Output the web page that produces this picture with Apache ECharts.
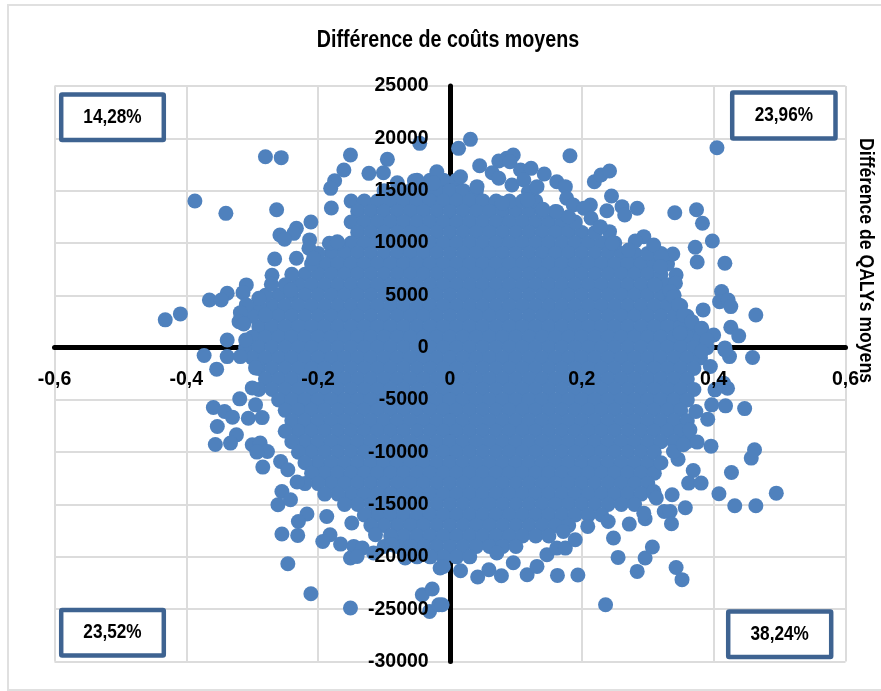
<!DOCTYPE html>
<html><head><meta charset="utf-8">
<style>html,body{margin:0;padding:0;background:#fff}#c{width:881px;height:691px}</style>
<script src="https://cdn.jsdelivr.net/npm/echarts@6/dist/echarts.min.js"></script>
</head><body><div id="c"></div>
<script>
const costTitle = 'Différence de coûts moyens';
const qalyTitle = 'Différence de QALYs moyens';
const quadrantShares = ['14,28%', '23,96%', '23,52%', '38,24%'];

// Outlying simulations: [QALY difference, cost difference]
const upperLeft = [[-.280,18240],[-.256,18150],[-.151,18400],[-.095,17990],[-.161,16970],[-.175,15950],[-.181,15220],[-.123,16650],[-.101,16710],[-.080,15760],[-.054,15950],[-.046,19520],[-.020,16810],[-.025,15730],[-.387,14010],[-.340,12830],[-.263,13180],[-.180,13340],[-.211,12000],[-.233,11400],[-.237,10920],[-.258,10760],[-.251,10350],[-.213,10290],[-.214,9490],[-.183,9970],[-.171,10120],[-.266,8470],[-.233,8540],[-.207,8540],[-.270,6910],[-.271,6050],[-.309,5990],[-.338,5190],[-.314,5250],[-.290,4720],[-.365,4550],[-.347,4550],[-.309,4080],[-.318,3340],[-.409,3220],[-.432,2650],[-.320,2480],[-.313,2260],[-.280,3120],[-.338,730],[-.310,730],[-.242,5510]];
const lowerLeft = [[-.373,-760],[-.338,-860],[-.354,-2060],[-.318,-860],[-.295,-1940],[-.300,-3850],[-.319,-4900],[-.295,-5470],[-.359,-5730],[-.342,-6110],[-.330,-6650],[-.306,-6750],[-.285,-6690],[-.353,-7540],[-.324,-8340],[-.333,-9130],[-.356,-9260],[-.300,-9290],[-.288,-9130],[-.277,-9930],[-.293,-9990],[-.284,-11420],[-.257,-10890],[-.246,-11680],[-.232,-12850],[-.255,-13750],[-.261,-15020],[-.242,-14540],[-.217,-15910],[-.230,-16620],[-.187,-16140],[-.255,-17820],[-.231,-17950],[-.182,-17890],[-.193,-18530],[-.166,-18780],[-.149,-16770],[-.146,-19000],[-.133,-19160],[-.151,-20110],[-.141,-19960],[-.116,-19630],[-.246,-20660],[-.211,-23520],[-.151,-24890],[-.068,-20110],[-.088,-18840],[-.113,-17890],[-.015,-21070],[-.042,-23620],[-.027,-23070],[-.031,-25210],[-.017,-24570],[-.012,-24570]];
const lowerRight = [[-.010,-20910],[.016,-21330],[.042,-21930],[.059,-21230],[.078,-21800],[.096,-20560],[.071,-19630],[.117,-21710],[.132,-20910],[.147,-19800],[.163,-21770],[.194,-21740],[.162,-19160],[.175,-19160],[.190,-18370],[.209,-17090],[.172,-17570],[.236,-24570],[.255,-20050],[.248,-18200],[.272,-16870],[.240,-16620],[.284,-21390],[.296,-20110],[.307,-19060],[.343,-21010],[.352,-22180],[.296,-16360],[.294,-15820],[.325,-15660],[.334,-15660],[.336,-16840],[.357,-15310],[.337,-14070],[.309,-13750],[.313,-14380],[.408,-13970],[.432,-15120],[.464,-15120],[.495,-13910],[.427,-11940],[.457,-10560],[.462,-9770],[.369,-11750],[.362,-12950],[.381,-12950],[.396,-9420],[.375,-9030],[.346,-10660],[.339,-9930],[.354,-9290],[.364,-7860],[.391,-6840],[.373,-6110],[.418,-5570],[.447,-5830],[.397,-5470],[.421,-3880],[.415,-3400],[.402,-4040],[.395,-1810],[.382,-380],[.424,-860],[.417,-220],[.459,-950]];
const upperRight = [[.405,19100],[.182,18340],[.031,19900],[.013,19040],[.045,17380],[.074,17830],[.086,18090],[.096,18400],[.091,17760],[.016,16330],[.064,16710],[.074,16180],[.041,15380],[.107,16970],[.123,17130],[.143,16590],[.162,15850],[.175,15380],[.094,15540],[.112,16020],[.119,14900],[.118,14110],[.132,15380],[.177,14270],[.187,13630],[.079,13790],[.141,13220],[.162,12990],[.180,12510],[.213,13630],[.203,13310],[.214,12360],[.238,13080],[.245,14490],[.219,15850],[.229,16490],[.242,16870],[.261,13470],[.265,12670],[.284,13310],[.341,12890],[.374,13180],[.383,11880],[.398,10190],[.372,9590],[.375,8180],[.417,8060],[.294,10600],[.281,10190],[.309,9810],[.271,9330],[.338,8950],[.321,8690],[.319,7730],[.242,11080],[.228,11560],[.246,9970],[.343,6940],[.342,6150],[.334,5350],[.311,5990],[.339,4870],[.347,4080],[.354,3120],[.384,3600],[.412,5350],[.409,4390],[.422,4550],[.426,3920],[.464,3120],[.367,2480],[.382,1850],[.426,1950],[.438,1120],[.400,1210],[.390,730],[.349,1380],[.417,-30]];

// Marks along the rim of the dense cloud
const cloudRim = [[-.10,15000],[-.08,15000],[-.05,16000],[.09,14000],[.11,14000],[.13,14000],[.14,13000],[.16,13000],[.19,12000],[.22,11000],[-.17,10000],[.25,10000],[-.20,9000],[.30,9000],[.32,9000],[-.21,8000],[.33,8000],[-.24,7000],[-.25,6000],[.33,6000],[-.28,5000],[-.29,4000],[-.30,3000],[.36,-7000],[-.25,-8000],[.35,-8000],[-.24,-9000],[.34,-9000],[.36,-9000],[-.23,-10000],[.31,-10000],[-.22,-11000],[.32,-11000],[-.21,-12000],[-.20,-13000],[-.22,-13000],[-.17,-14000],[-.19,-14000],[.29,-14000],[.31,-14000],[-.14,-15000],[-.16,-15000],[.26,-15000],[.28,-15000],[-.13,-16000],[.23,-16000],[-.10,-17000],[-.12,-17000],[.18,-17000],[-.09,-18000],[.15,-18000],[-.06,-19000],[-.08,-19000],[-.10,-19000],[.10,-19000],[-.03,-20000],[-.05,-20000],[.03,-20000]];

// Dense central cloud: individual marks merge there, so the cloud is given band by band,
// each cost level with QALY differences spanning the extent seen in the picture.
const cloudCosts = [16000,15000,14000,13000,12000,11000,10000,9000,8000,7000,6000,5000,4000,3000,2000,1000,0,-1000,-2000,-3000,-4000,-5000,-6000,-7000,-8000,-9000,-10000,-11000,-12000,-13000,-14000,-15000,-16000,-17000,-18000,-19000,-20000];
const cloudQalys = [
[-.03,-.01,.01],
[-.06,-.04,-.02,0,.02,.04],
[-.15,-.13,-.11,-.09,-.07,-.05,-.03,-.01,.01,.03,.05,.07],
[-.14,-.12,-.10,-.08,-.06,-.04,-.02,0,.02,.04,.06,.08,.10,.12],
[-.15,-.13,-.11,-.09,-.07,-.05,-.03,-.01,.01,.03,.05,.07,.09,.11,.13,.15,.17],
[-.14,-.12,-.10,-.08,-.06,-.04,-.02,0,.02,.04,.06,.08,.10,.12,.14,.16,.18,.20],
[-.15,-.13,-.11,-.09,-.07,-.05,-.03,-.01,.01,.03,.05,.07,.09,.11,.13,.15,.17,.19,.21,.23],
[-.18,-.16,-.14,-.12,-.10,-.08,-.06,-.04,-.02,0,.02,.04,.06,.08,.10,.12,.14,.16,.18,.20,.22,.24,.26,.28],
[-.19,-.17,-.15,-.13,-.11,-.09,-.07,-.05,-.03,-.01,.01,.03,.05,.07,.09,.11,.13,.15,.17,.19,.21,.23,.25,.27,.29,.31],
[-.22,-.20,-.18,-.16,-.14,-.12,-.10,-.08,-.06,-.04,-.02,0,.02,.04,.06,.08,.10,.12,.14,.16,.18,.20,.22,.24,.26,.28,.30,.32],
[-.23,-.21,-.19,-.17,-.15,-.13,-.11,-.09,-.07,-.05,-.03,-.01,.01,.03,.05,.07,.09,.11,.13,.15,.17,.19,.21,.23,.25,.27,.29,.31],
[-.26,-.24,-.22,-.20,-.18,-.16,-.14,-.12,-.10,-.08,-.06,-.04,-.02,0,.02,.04,.06,.08,.10,.12,.14,.16,.18,.20,.22,.24,.26,.28,.30,.32,.34],
[-.27,-.25,-.23,-.21,-.19,-.17,-.15,-.13,-.11,-.09,-.07,-.05,-.03,-.01,.01,.03,.05,.07,.09,.11,.13,.15,.17,.19,.21,.23,.25,.27,.29,.31,.33,.35],
[-.28,-.26,-.24,-.22,-.20,-.18,-.16,-.14,-.12,-.10,-.08,-.06,-.04,-.02,0,.02,.04,.06,.08,.10,.12,.14,.16,.18,.20,.22,.24,.26,.28,.30,.32,.34,.36],
[-.29,-.27,-.25,-.23,-.21,-.19,-.17,-.15,-.13,-.11,-.09,-.07,-.05,-.03,-.01,.01,.03,.05,.07,.09,.11,.13,.15,.17,.19,.21,.23,.25,.27,.29,.31,.33,.35,.37],
[-.30,-.28,-.26,-.24,-.22,-.20,-.18,-.16,-.14,-.12,-.10,-.08,-.06,-.04,-.02,0,.02,.04,.06,.08,.10,.12,.14,.16,.18,.20,.22,.24,.26,.28,.30,.32,.34,.36,.38],
[-.31,-.29,-.27,-.25,-.23,-.21,-.19,-.17,-.15,-.13,-.11,-.09,-.07,-.05,-.03,-.01,.01,.03,.05,.07,.09,.11,.13,.15,.17,.19,.21,.23,.25,.27,.29,.31,.33,.35,.37,.39],
[-.30,-.28,-.26,-.24,-.22,-.20,-.18,-.16,-.14,-.12,-.10,-.08,-.06,-.04,-.02,0,.02,.04,.06,.08,.10,.12,.14,.16,.18,.20,.22,.24,.26,.28,.30,.32,.34,.36,.38],
[-.29,-.27,-.25,-.23,-.21,-.19,-.17,-.15,-.13,-.11,-.09,-.07,-.05,-.03,-.01,.01,.03,.05,.07,.09,.11,.13,.15,.17,.19,.21,.23,.25,.27,.29,.31,.33,.35,.37],
[-.28,-.26,-.24,-.22,-.20,-.18,-.16,-.14,-.12,-.10,-.08,-.06,-.04,-.02,0,.02,.04,.06,.08,.10,.12,.14,.16,.18,.20,.22,.24,.26,.28,.30,.32,.34,.36],
[-.29,-.27,-.25,-.23,-.21,-.19,-.17,-.15,-.13,-.11,-.09,-.07,-.05,-.03,-.01,.01,.03,.05,.07,.09,.11,.13,.15,.17,.19,.21,.23,.25,.27,.29,.31,.33,.35,.37],
[-.26,-.24,-.22,-.20,-.18,-.16,-.14,-.12,-.10,-.08,-.06,-.04,-.02,0,.02,.04,.06,.08,.10,.12,.14,.16,.18,.20,.22,.24,.26,.28,.30,.32,.34,.36],
[-.25,-.23,-.21,-.19,-.17,-.15,-.13,-.11,-.09,-.07,-.05,-.03,-.01,.01,.03,.05,.07,.09,.11,.13,.15,.17,.19,.21,.23,.25,.27,.29,.31,.33,.35],
[-.24,-.22,-.20,-.18,-.16,-.14,-.12,-.10,-.08,-.06,-.04,-.02,0,.02,.04,.06,.08,.10,.12,.14,.16,.18,.20,.22,.24,.26,.28,.30,.32,.34],
[-.23,-.21,-.19,-.17,-.15,-.13,-.11,-.09,-.07,-.05,-.03,-.01,.01,.03,.05,.07,.09,.11,.13,.15,.17,.19,.21,.23,.25,.27,.29,.31,.33],
[-.22,-.20,-.18,-.16,-.14,-.12,-.10,-.08,-.06,-.04,-.02,0,.02,.04,.06,.08,.10,.12,.14,.16,.18,.20,.22,.24,.26,.28,.30,.32],
[-.21,-.19,-.17,-.15,-.13,-.11,-.09,-.07,-.05,-.03,-.01,.01,.03,.05,.07,.09,.11,.13,.15,.17,.19,.21,.23,.25,.27,.29],
[-.20,-.18,-.16,-.14,-.12,-.10,-.08,-.06,-.04,-.02,0,.02,.04,.06,.08,.10,.12,.14,.16,.18,.20,.22,.24,.26,.28,.30],
[-.19,-.17,-.15,-.13,-.11,-.09,-.07,-.05,-.03,-.01,.01,.03,.05,.07,.09,.11,.13,.15,.17,.19,.21,.23,.25,.27,.29,.31],
[-.18,-.16,-.14,-.12,-.10,-.08,-.06,-.04,-.02,0,.02,.04,.06,.08,.10,.12,.14,.16,.18,.20,.22,.24,.26,.28,.30],
[-.15,-.13,-.11,-.09,-.07,-.05,-.03,-.01,.01,.03,.05,.07,.09,.11,.13,.15,.17,.19,.21,.23,.25,.27],
[-.12,-.10,-.08,-.06,-.04,-.02,0,.02,.04,.06,.08,.10,.12,.14,.16,.18,.20,.22,.24],
[-.11,-.09,-.07,-.05,-.03,-.01,.01,.03,.05,.07,.09,.11,.13,.15,.17,.19,.21],
[-.08,-.06,-.04,-.02,0,.02,.04,.06,.08,.10,.12,.14,.16],
[-.07,-.05,-.03,-.01,.01,.03,.05,.07,.09,.11,.13],
[-.04,-.02,0,.02,.04,.06,.08],
[-.01,.01]
];

const cloud = [];
cloudCosts.forEach((cost, i) => cloudQalys[i].forEach(q => cloud.push([q, cost])));
const allPoints = cloud.concat(cloudRim, upperLeft, upperRight, lowerLeft, lowerRight);

const FONT = '"Liberation Sans",Arial,sans-serif';
const BLUE = '#4F81BD', BOX = '#3E6391', GRID = '#DCDCDC';
const labelStyle = {fontFamily: FONT, fontWeight: 'bold', fontSize: 19.5, color: '#000'};

function box(x, y, w, h, text) {
  return {type: 'group', x, y, children: [
    {type: 'rect', z: 20, shape: {x: 0, y: 0, width: w, height: h, r: 1},
     style: {fill: '#fff', stroke: BOX, lineWidth: 4.5}},
    {type: 'text', z: 21, x: w / 2, y: h / 2, scaleX: 0.86, style: {text, align: 'center', verticalAlign: 'middle',
      font: 'bold 20px ' + FONT, fill: '#000'}}
  ]};
}

const chart = echarts.init(document.getElementById('c'), null, {renderer: 'canvas'});
chart.setOption({
  animation: false,
  backgroundColor: '#fff',
  grid: {left: 54.5, right: 35.5, top: 86, bottom: 29.5, containLabel: false, outerBoundsMode: 'none'},
  xAxis: [
    {type: 'value', min: -0.6, max: 0.6, interval: 0.2,
     axisLine: {onZero: true, lineStyle: {color: '#000', width: 5}},
     axisTick: {show: false}, axisLabel: {show: false},
     splitLine: {show: true, lineStyle: {color: GRID, width: 2}}},
    {type: 'value', min: -0.6, max: 0.6, interval: 0.2, z: 5, position: 'bottom', offset: -314,
     axisLine: {show: false, onZero: false}, axisTick: {show: false},
     splitLine: {show: false},
     axisLabel: Object.assign({show: true, margin: 22, hideOverlap: false, showMinLabel: true, showMaxLabel: true,
       formatter: v => String(v).replace('.', ',')}, labelStyle)}
  ],
  yAxis: [
    {type: 'value', min: -30000, max: 25000, interval: 5000,
     axisLine: {onZero: true, lineStyle: {color: '#000', width: 5}},
     axisTick: {show: false}, axisLabel: {show: false},
     splitLine: {show: true, lineStyle: {color: GRID, width: 2}}},
    {type: 'value', min: -30000, max: 25000, interval: 5000, z: 5, position: 'left', offset: -395.2,
     axisLine: {show: false, onZero: false}, axisTick: {show: false},
     splitLine: {show: false},
     axisLabel: Object.assign({show: true, margin: 21, hideOverlap: false, showMinLabel: true, showMaxLabel: true,
       formatter: v => String(v)}, labelStyle)}
  ],
  series: [{type: 'scatter', xAxisIndex: 0, yAxisIndex: 0, data: allPoints, symbol: 'circle', symbolSize: 15,
    large: false, progressive: 0, itemStyle: {color: BLUE, opacity: 1}, silent: true, z: 2}],
  graphic: [
    {type: 'rect', z: -10, silent: true, shape: {x: 8, y: 5, width: 880, height: 685},
     style: {fill: 'transparent', stroke: '#E0E0E0', lineWidth: 2}},
    {type: 'text', x: 448, y: 40.5, z: 20, scaleX: 0.855,
     style: {text: costTitle, align: 'center', verticalAlign: 'middle', font: 'bold 23px ' + FONT, fill: '#000'}},
    {type: 'text', x: 866, y: 260.5, rotation: -Math.PI / 2, z: 20, scaleX: 0.88,
     style: {text: qalyTitle, align: 'center', verticalAlign: 'middle', font: 'bold 20px ' + FONT, fill: '#000'}},
    box(61.2, 94.5, 102.6, 45.5, quadrantShares[0]),
    box(732.2, 92.5, 103.3, 46, quadrantShares[1]),
    box(61.2, 610, 102.6, 45.5, quadrantShares[2]),
    box(728.2, 611.5, 103, 45.5, quadrantShares[3])
  ]
});
</script></body></html>
